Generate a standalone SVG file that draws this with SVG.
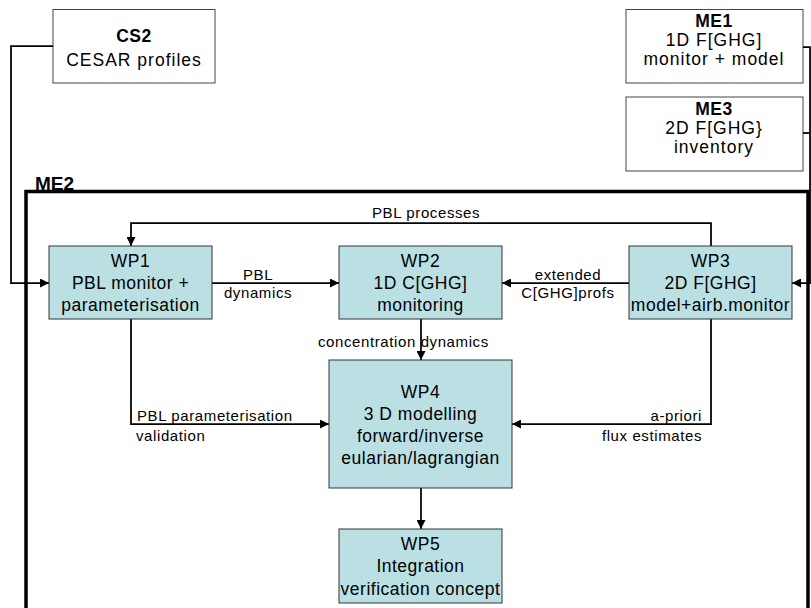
<svg xmlns="http://www.w3.org/2000/svg" width="811" height="608" viewBox="0 0 811 608">
<style>
text{font-family:"Liberation Sans",Arial,sans-serif;fill:#000}
.ext{fill:#fff;stroke:#444;stroke-width:1}
.wp{fill:#bbe0e3;stroke:#333;stroke-width:1}
.bt{font-size:17.5px;letter-spacing:0.5px;text-anchor:middle}
.ht{font-size:17.5px;letter-spacing:1px;text-anchor:middle}
.hb{font-weight:bold;letter-spacing:0.5px}
.lb{font-size:15px;letter-spacing:0.6px}
.mid{text-anchor:middle}
.end{text-anchor:end}
.cn{fill:none;stroke:#000;stroke-width:1.75}
.ar{marker-end:url(#arr)}
</style>
<defs>
<marker id="arr" markerUnits="userSpaceOnUse" markerWidth="9" markerHeight="9" refX="9" refY="4.5" orient="auto">
<path d="M0,0 L9,4.5 L0,9 z" fill="#000"/>
</marker>
</defs>
<g id="ME2">
<rect x="26" y="191.5" width="782" height="440" fill="none" stroke="#000" stroke-width="3.5"/>
<text x="35" y="190" style="font-size:19px;font-weight:bold">ME2</text>
</g>
<g id="CS2">
<rect class="ext" x="53" y="9.5" width="162" height="73.5"/>
<text class="ht hb" x="134" y="42">CS2</text>
<text class="ht" x="134" y="66">CESAR profiles</text>
</g>
<g id="ME1">
<rect class="ext" x="626" y="9.5" width="177" height="73.5"/>
<text class="ht hb" x="714" y="27">ME1</text>
<text class="ht" x="714" y="46">1D F[GHG]</text>
<text class="ht" x="714" y="65">monitor + model</text>
</g>
<g id="ME3">
<rect class="ext" x="626" y="97" width="177" height="74"/>
<text class="ht hb" x="714" y="115">ME3</text>
<text class="ht" x="714" y="134">2D F[GHG}</text>
<text class="ht" x="714" y="153">inventory</text>
</g>
<g id="connectors">
<path class="cn ar" d="M53,46 H11 V283 H49"/>
<path class="cn ar" d="M803,47 H810 V283 H792"/>
<path class="cn" d="M803,133 H810"/>
<path class="cn ar" d="M711,246 V223 H131 V246"/>
<path class="cn ar" d="M212,283 H339"/>
<path class="cn ar" d="M629,283 H502"/>
<path class="cn ar" d="M421,319 V360"/>
<path class="cn ar" d="M131,319 V424 H329"/>
<path class="cn ar" d="M711,319 V424 H512"/>
<path class="cn ar" d="M421,488 V529"/>
<text class="lb" x="372" y="218">PBL processes</text>
<text class="lb mid" x="258" y="280">PBL</text>
<text class="lb mid" x="258" y="298">dynamics</text>
<text class="lb mid" x="568" y="280">extended</text>
<text class="lb mid" x="568" y="298">C[GHG]profs</text>
<text class="lb" x="318" y="347">concentration dynamics</text>
<text class="lb" x="137" y="421">PBL parameterisation</text>
<text class="lb" x="136" y="441">validation</text>
<text class="lb end" x="702" y="421">a-priori</text>
<text class="lb end" x="702" y="441">flux estimates</text>
</g>
<g id="WP1">
<rect class="wp" x="49" y="246" width="163" height="73"/>
<text class="bt" x="130.5" y="267">WP1</text>
<text class="bt" x="130.5" y="289">PBL monitor +</text>
<text class="bt" x="130.5" y="311">parameterisation</text>
</g>
<g id="WP2">
<rect class="wp" x="339" y="246" width="163" height="73"/>
<text class="bt" x="420.5" y="267">WP2</text>
<text class="bt" x="420.5" y="289">1D C[GHG]</text>
<text class="bt" x="420.5" y="311">monitoring</text>
</g>
<g id="WP3">
<rect class="wp" x="629" y="246" width="163" height="73"/>
<text class="bt" x="710.5" y="267">WP3</text>
<text class="bt" x="710.5" y="289">2D F[GHG]</text>
<text class="bt" x="710.5" y="311">model+airb.monitor</text>
</g>
<g id="WP4">
<rect class="wp" x="329" y="360" width="183" height="128"/>
<text class="bt" x="420.5" y="398">WP4</text>
<text class="bt" x="420.5" y="420">3 D modelling</text>
<text class="bt" x="420.5" y="442">forward/inverse</text>
<text class="bt" x="420.5" y="464">eularian/lagrangian</text>
</g>
<g id="WP5">
<rect class="wp" x="339" y="529" width="163" height="74"/>
<text class="bt" x="420.5" y="550">WP5</text>
<text class="bt" x="420.5" y="572">Integration</text>
<text class="bt" x="420.5" y="595">verification concept</text>
</g>
</svg>
